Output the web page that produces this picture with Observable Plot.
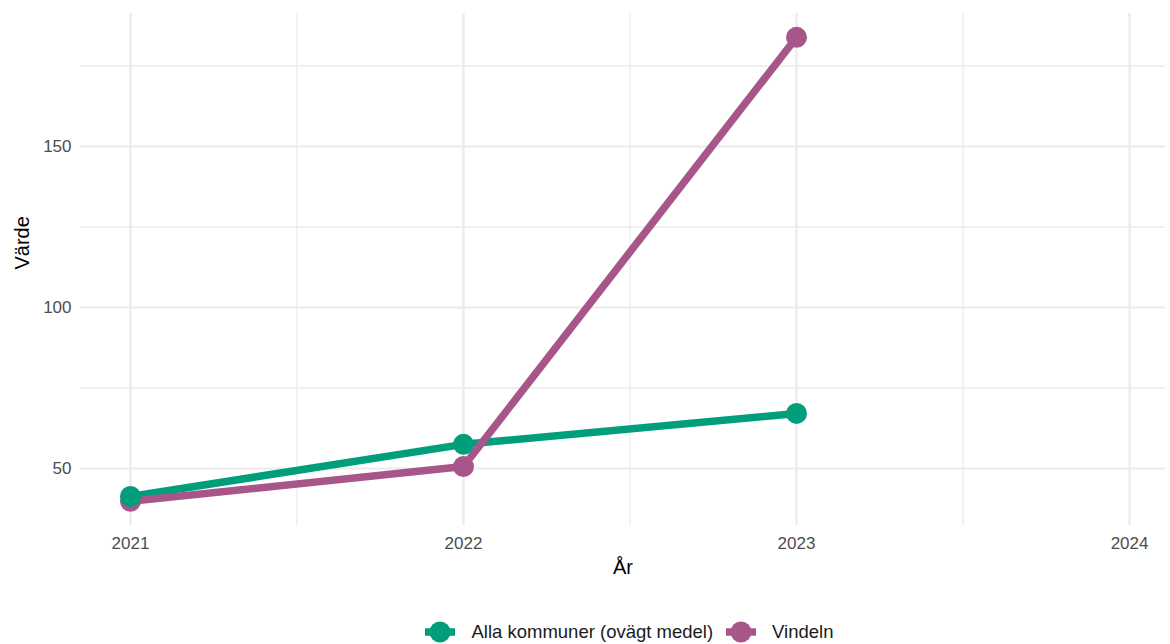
<!DOCTYPE html>
<html>
<head>
<meta charset="utf-8">
<script src="https://cdn.jsdelivr.net/npm/d3@7"></script>
<script src="https://cdn.jsdelivr.net/npm/@observablehq/plot@0.6"></script>
<style>
  html, body { margin: 0; padding: 0; background: #fff; }
  body { width: 1170px; height: 644px; overflow: hidden; font-family: "Liberation Sans", Arial, sans-serif; }
  #legend { display: flex; justify-content: center; align-items: center; height: 34px; margin-top: 25px; font-size: 18.5px; color: #1a1a1a; padding-left: 100px; }
  .item { display: flex; align-items: center; margin-right: 12px; }
  .item svg { margin-right: 15px; }
</style>
</head>
<body>
<div id="chart"></div>
<div id="legend"></div>
<script>
const years = [2021, 2022, 2023];
const seriesNames = ["Alla kommuner (ovägt medel)", "Vindeln"];
const allaValues = [41.3, 57.5, 67.1];
const vindelnValues = [39.8, 50.6, 183.9];
const colors = ["#009E7A", "#A8568A"];
const xTicks = [2021, 2022, 2023, 2024];
const xMinor = [2021.5, 2022.5, 2023.5];
const yTicks = [50, 100, 150];
const yMinor = [75, 125, 175];

const data = [
  ...years.map((y, i) => ({year: y, value: allaValues[i], series: seriesNames[0]})),
  ...years.map((y, i) => ({year: y, value: vindelnValues[i], series: seriesNames[1]}))
];
const alla = data.filter(d => d.series === seriesNames[0]);
const vind = data.filter(d => d.series === seriesNames[1]);
const grid = "#ebebeb";

const chart = Plot.plot({
  width: 1170,
  height: 590,
  marginLeft: 80,
  marginRight: 5,
  marginTop: 13,
  marginBottom: 65,
  style: {fontFamily: "Liberation Sans, Arial, sans-serif", background: "#fff"},
  x: {domain: [2020.85, 2024.108], ticks: xTicks, tickFormat: d3.format("d"), label: null},
  y: {domain: [32.3, 191.3], ticks: yTicks, label: null},
  color: {domain: seriesNames, range: colors},
  marks: [
    Plot.ruleX(xMinor, {stroke: grid, strokeWidth: 1.3}),
    Plot.ruleY(yMinor, {stroke: grid, strokeWidth: 1.3}),
    Plot.ruleX(xTicks, {stroke: grid, strokeWidth: 2.2}),
    Plot.ruleY(yTicks, {stroke: grid, strokeWidth: 2.2}),
    Plot.axisX({ticks: xTicks, tickFormat: d3.format("d"), tickSize: 0, tickPadding: 11, fontSize: 17, color: "#4d4d4d", label: null}),
    Plot.axisY({ticks: yTicks, tickSize: 0, tickPadding: 9, fontSize: 17, color: "#4d4d4d", label: null}),
    Plot.text(["År"], {frameAnchor: "bottom", dy: 48, fontSize: 20, fill: "#000"}),
    Plot.text(["Värde"], {frameAnchor: "left", dx: -58, rotate: -90, fontSize: 20, fill: "#000"}),
    Plot.line(alla, {x: "year", y: "value", stroke: "series", strokeWidth: 7.5, strokeLinejoin: "round"}),
    Plot.line(vind, {x: "year", y: "value", stroke: "series", strokeWidth: 7.5, strokeLinejoin: "round"}),
    Plot.dot(vind, {x: "year", y: "value", fill: "series", r: 10.5}),
    Plot.dot(alla, {x: "year", y: "value", fill: "series", r: 10.5})
  ]
});
document.getElementById("chart").appendChild(chart);

const legend = document.getElementById("legend");
seriesNames.forEach((name, i) => {
  const item = document.createElement("div");
  item.className = "item";
  item.innerHTML = `<svg width="32" height="22"><line x1="1" x2="31" y1="11" y2="11" stroke="${colors[i]}" stroke-width="7.5"/><circle cx="16" cy="11" r="10.5" fill="${colors[i]}"/></svg><span>${name}</span>`;
  legend.appendChild(item);
});
</script>
</body>
</html>
